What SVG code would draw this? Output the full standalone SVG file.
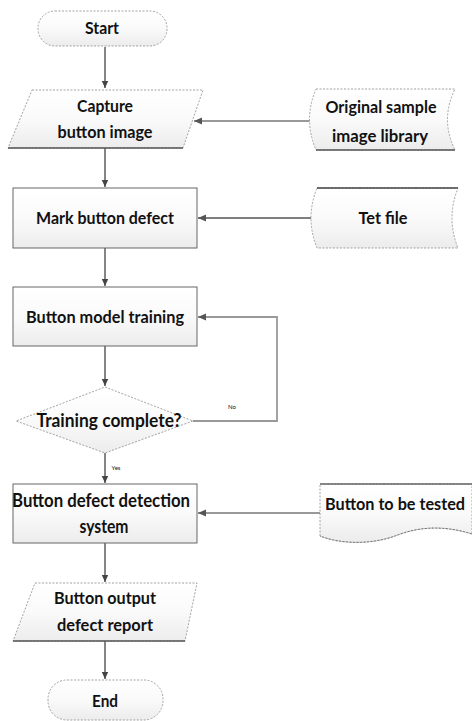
<svg xmlns="http://www.w3.org/2000/svg" width="472" height="721" viewBox="0 0 472 721">
<defs>
<linearGradient id="g" x1="0" y1="0" x2="0" y2="1">
<stop offset="0" stop-color="#ffffff"/>
<stop offset="0.5" stop-color="#fafafa"/>
<stop offset="1" stop-color="#ececec"/>
</linearGradient>
<marker id="ah" markerWidth="8" markerHeight="8" refX="7" refY="4" orient="auto" markerUnits="userSpaceOnUse">
<path d="M0,0.8 L7,4 L0,7.2 Z" fill="#444"/>
</marker>
<marker id="ah2" markerWidth="9" markerHeight="9" refX="8" refY="4.5" orient="auto" markerUnits="userSpaceOnUse">
<path d="M0,1 L8,4.5 L0,8 Z" fill="#555"/>
</marker>
</defs>
<style>
text{font-family:Lato,"Liberation Sans",sans-serif;font-weight:700;fill:#111;text-anchor:middle}
.t{font-size:17px}
.s{font-size:6px;font-weight:400}
.box{fill:url(#g);stroke:#666;stroke-width:1}
.dash{fill:url(#g);stroke:#999;stroke-width:0.9;stroke-dasharray:2 1.5}
.edge{stroke:#444;stroke-width:1.3;fill:none}
.gl{stroke:#999;stroke-width:1.8;fill:none}
.dk{stroke:#555;stroke-width:1.5;fill:none}
</style>
<g id="connectors">
<path class="edge" d="M105,47 V88" marker-end="url(#ah)"/>
<path class="edge" d="M105,148 V187" marker-end="url(#ah)"/>
<path class="gl" d="M311,121 H194" marker-end="url(#ah2)"/>
<path class="dk" d="M311,218 H198" marker-end="url(#ah2)"/>
<path class="edge" d="M105,248 V286" marker-end="url(#ah)"/>
<path class="edge" d="M105,346 V386" marker-end="url(#ah)"/>
<path class="gl" d="M193,421 H277 V317 H198" marker-end="url(#ah2)"/>
<text class="s" x="232" y="409">No</text>
<path class="edge" d="M105,453 V483" marker-end="url(#ah)"/>
<text class="s" x="116" y="470">Yes</text>
<path class="gl" d="M320,513 H198" marker-end="url(#ah2)"/>
<path class="edge" d="M105,543 V582" marker-end="url(#ah)"/>
<path class="edge" d="M105,641 V679" marker-end="url(#ah)"/>
</g>
<g id="start">
<rect class="dash" x="38" y="11" width="129" height="35" rx="17"/>
<text class="t" x="102" y="34" textLength="34" lengthAdjust="spacingAndGlyphs">Start</text>
</g>
<g id="capture">
<path class="dash" d="M32,90 H203 L183,148 H8 Z"/>
<path d="M8,148 H183" stroke="#555" stroke-width="1.5"/>
<text class="t" x="105" y="112" textLength="56" lengthAdjust="spacingAndGlyphs">Capture</text>
<text class="t" x="105" y="138" textLength="95" lengthAdjust="spacingAndGlyphs">button image</text>
</g>
<g id="original">
<path class="dash" d="M316,89 H455 Q440,119.5 455,150 H316 Q303,119.5 316,89 Z"/>
<path d="M316,150 H455" stroke="#555" stroke-width="1.5"/>
<text class="t" x="381" y="113" textLength="111" lengthAdjust="spacingAndGlyphs">Original sample</text>
<text class="t" x="380" y="142" textLength="96" lengthAdjust="spacingAndGlyphs">image library</text>
</g>
<g id="mark">
<rect class="box" x="13" y="188" width="184" height="60"/>
<text class="t" x="105" y="224" textLength="138" lengthAdjust="spacingAndGlyphs">Mark button defect</text>
</g>
<g id="tet">
<path class="dash" d="M317,188 H458 Q446,218 458,248 H317 Q305,218 317,188 Z"/>
<path d="M317,188 H458" stroke="#444" stroke-width="1.3"/>
<text class="t" x="383" y="224" textLength="49" lengthAdjust="spacingAndGlyphs">Tet file</text>
</g>
<g id="train">
<rect class="box" x="13" y="287" width="184" height="59"/>
<text class="t" x="105" y="323" textLength="158" lengthAdjust="spacingAndGlyphs">Button model training</text>
</g>
<g id="decision">
<path class="dash" d="M105,387 L193,421 L105,453 L16,421 Z"/>
<text class="t" x="109" y="427" style="font-size:19px" textLength="145" lengthAdjust="spacingAndGlyphs">Training complete?</text>
</g>
<g id="detect">
<rect class="box" x="13" y="484" width="184" height="59"/>
<text class="t" x="101" y="507" style="font-size:19px" textLength="178" lengthAdjust="spacingAndGlyphs">Button defect detection</text>
<text class="t" x="104" y="533" style="font-size:19px" textLength="49" lengthAdjust="spacingAndGlyphs">system</text>
</g>
<g id="tested">
<path class="dash" d="M320,484 H472 V534 C440,524 415,528 395,536 C370,545 340,544 320,536 Z" stroke="none"/>
<path d="M472,534 C440,524 415,528 395,536 C370,545 340,544 320,536" stroke="#777" stroke-width="1" fill="none" stroke-dasharray="2 1.5"/>
<path d="M320,484 H472" stroke="#666" stroke-width="1.5"/>
<text class="t" x="395" y="510" textLength="140" lengthAdjust="spacingAndGlyphs">Button to be tested</text>
</g>
<g id="output">
<path class="dash" d="M35,583 H197 L185,641 H13 Z"/>
<path d="M13,641 H185" stroke="#555" stroke-width="1.5"/>
<text class="t" x="105" y="604" textLength="102" lengthAdjust="spacingAndGlyphs">Button output</text>
<text class="t" x="105" y="631" textLength="96" lengthAdjust="spacingAndGlyphs">defect report</text>
</g>
<g id="end">
<rect class="dash" x="48" y="680" width="115" height="40" rx="19"/>
<text class="t" x="105" y="707" textLength="26" lengthAdjust="spacingAndGlyphs">End</text>
</g>
</svg>
